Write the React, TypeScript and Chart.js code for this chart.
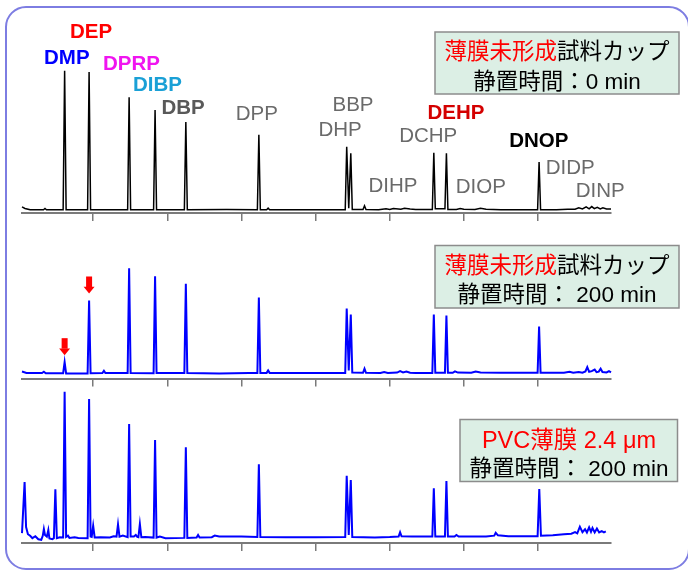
import React, { useEffect, useRef } from "react";
import { Chart, registerables } from "chart.js";
Chart.register(...registerables);

// ---- data (retention time [min], relative intensity) ----
const X_TICKS = [6, 8, 10, 12, 14, 16, 18];
const X_MIN = 4.08;
const X_MAX = 19.97;

const PEAK_NAMES = ["DMP", "DEP", "DPRP", "DIBP", "DBP", "DPP", "BBP", "DHP", "DIHP", "DCHP", "DEHP", "DIOP", "DNOP", "DIDP", "DINP"];

// panel 1: 薄膜未形成試料カップ, 0 min (black)
const TRACE_0MIN: [number, number][] = [
  [4.08, 3.8], [4.16, 2.8], [4.30, 2.0], [4.66, 2.0], [4.70, 2.8], [4.74, 2.0],
  [5.19, 2.0], [5.23, 88.9], [5.27, 2.0], [5.85, 2.0], [5.89, 88.1], [5.93, 2.0],
  [6.93, 2.0], [6.97, 72.3], [7.01, 2.0], [7.63, 2.0], [7.67, 64.4], [7.71, 2.0],
  [8.46, 2.0], [8.50, 56.9], [8.54, 2.0], [9.60, 2.2], [10.43, 2.0], [10.47, 48.9], [10.51, 2.0],
  [10.68, 2.0], [10.72, 3.0], [10.76, 2.0], [12.80, 2.0], [12.84, 41.4], [12.895, 3.0], [12.95, 37.3], [12.99, 2.2],
  [13.28, 2.2], [13.32, 4.5], [13.36, 2.2], [13.70, 2.0], [13.90, 2.6], [14.00, 2.2], [14.10, 2.8], [14.30, 2.4],
  [14.40, 3.0], [14.55, 2.5], [14.70, 2.2], [15.15, 2.2], [15.19, 37.7], [15.23, 2.6], [15.49, 2.6], [15.53, 37.3], [15.57, 2.2],
  [15.80, 2.2], [15.90, 2.8], [16.00, 2.3], [16.30, 2.2], [16.45, 2.9], [16.60, 2.3], [17.00, 2.1],
  [17.99, 2.0], [18.03, 31.9], [18.07, 2.0], [18.50, 2.1], [18.80, 2.3], [19.00, 2.3], [19.10, 3.2], [19.20, 2.5],
  [19.30, 3.8], [19.38, 2.6], [19.45, 4.0], [19.52, 2.7], [19.60, 3.6], [19.68, 2.6], [19.75, 3.3], [19.85, 2.5], [19.97, 2.5],
];

// panel 2: 薄膜未形成試料カップ, 200 min (blue)
const TRACE_200MIN: [number, number][] = [
  [4.08, 4.4], [4.20, 3.5], [4.62, 3.4], [4.67, 4.2], [4.72, 3.3], [5.19, 3.3], [5.23, 10.2], [5.27, 3.2],
  [5.85, 3.2], [5.89, 48.75], [5.93, 3.3], [6.25, 3.4], [6.29, 4.8], [6.33, 3.4], [6.93, 3.4], [6.97, 68.9], [7.01, 3.4],
  [7.63, 3.3], [7.67, 63.9], [7.71, 3.4], [8.46, 3.4], [8.50, 59.2], [8.54, 3.4], [9.40, 3.1], [10.20, 3.5],
  [10.43, 3.5], [10.47, 50.6], [10.51, 3.5], [10.68, 3.5], [10.72, 5.0], [10.76, 3.5], [12.80, 3.5], [12.84, 43.75],
  [12.895, 5.0], [12.95, 40.0], [12.99, 3.8], [13.28, 3.6], [13.32, 6.1], [13.36, 3.6], [13.75, 3.4], [13.85, 4.0],
  [13.95, 3.5], [14.20, 3.7], [14.28, 4.6], [14.36, 3.8], [14.45, 4.4], [14.55, 3.6], [14.70, 3.5], [15.15, 3.5],
  [15.19, 40.0], [15.23, 3.6], [15.49, 3.6], [15.53, 39.4], [15.57, 3.6], [15.70, 3.6], [15.76, 4.5], [15.84, 3.7],
  [16.20, 3.6], [16.32, 4.3], [16.45, 3.7], [17.00, 3.6], [17.99, 3.6], [18.03, 32.5], [18.07, 3.6], [18.70, 3.6],
  [18.85, 4.2], [18.95, 3.6], [19.10, 4.0], [19.20, 3.6], [19.28, 4.4], [19.33, 7.1], [19.38, 4.2], [19.45, 4.6],
  [19.53, 5.6], [19.58, 4.0], [19.64, 4.3], [19.69, 6.1], [19.74, 4.0], [19.85, 3.8], [19.915, 4.6], [19.97, 3.8],
];

// panel 3: PVC薄膜 2.4 µm, 200 min (blue)
const TRACE_PVC: [number, number][] = [
  [4.08, 6.2], [4.15, 38.1], [4.19, 10.0], [4.24, 5.5], [4.30, 4.5], [4.36, 3.0], [4.44, 4.2], [4.52, 2.3],
  [4.60, 2.0], [4.64, 4.5], [4.67, 8.75], [4.70, 5.0], [4.75, 4.0], [4.79, 8.1], [4.82, 2.8], [4.90, 2.4],
  [4.94, 3.0], [4.98, 33.6], [5.02, 3.0], [5.10, 3.6], [5.19, 3.5], [5.23, 94.6], [5.27, 3.8], [5.32, 4.6],
  [5.36, 3.2], [5.50, 3.6], [5.60, 3.2], [5.85, 3.0], [5.89, 90.0], [5.93, 4.0], [5.96, 3.8], [6.00, 10.8],
  [6.04, 3.5], [6.20, 3.6], [6.45, 3.4], [6.55, 4.2], [6.63, 4.0], [6.67, 11.7], [6.71, 4.0], [6.80, 4.6],
  [6.93, 3.6], [6.97, 74.4], [7.01, 4.0], [7.10, 4.0], [7.15, 5.0], [7.19, 3.8], [7.22, 3.6], [7.26, 11.9],
  [7.30, 3.6], [7.40, 3.8], [7.63, 3.4], [7.67, 64.4], [7.71, 3.4], [7.80, 4.0], [7.95, 3.0], [8.46, 3.2],
  [8.50, 59.8], [8.54, 3.2], [8.79, 3.4], [8.83, 5.0], [8.87, 3.4], [9.20, 3.6], [9.28, 4.6], [9.40, 4.0],
  [10.00, 4.0], [10.43, 3.8], [10.47, 49.2], [10.51, 3.8], [11.20, 3.6], [12.00, 3.6], [12.80, 3.8], [12.84, 42.0],
  [12.895, 5.0], [12.95, 39.4], [12.99, 3.8], [13.60, 3.5], [14.00, 3.7], [14.24, 4.0], [14.28, 6.7], [14.32, 4.2],
  [14.60, 4.0], [15.15, 4.0], [15.19, 34.2], [15.23, 4.0], [15.49, 4.0], [15.53, 38.75], [15.57, 4.0], [15.75, 4.0],
  [15.80, 5.0], [15.86, 4.0], [16.60, 4.1], [16.82, 4.6], [16.86, 6.4], [16.92, 4.8], [17.20, 4.2], [17.99, 4.2],
  [18.035, 33.75], [18.08, 4.5], [18.40, 4.8], [18.70, 5.4], [18.90, 5.8], [19.00, 6.8], [19.06, 6.0], [19.13, 10.2],
  [19.20, 6.8], [19.27, 8.6], [19.32, 6.6], [19.38, 9.8], [19.43, 7.0], [19.47, 9.4], [19.53, 6.6], [19.59, 9.0],
  [19.65, 6.6], [19.72, 7.4], [19.78, 6.6], [19.83, 7.2],
];

// peaks marked with red arrows (panel 2)
const ARROW_PEAKS_200MIN: [number, number][] = [
  [5.23, 10.2],
  [5.89, 48.75],
];

// ---- layout / styling ----
const W = 688;
const H = 571;
const LABEL_FONT = '"Liberation Sans", Arial, sans-serif';
const BOX_FONT = '"Liberation Sans", "Noto Sans CJK JP", sans-serif';
const GRAY = "#6a6a6a";

type Lbl = { name: string; color: string; bold: boolean; x: number; y: number };
const LABEL_STYLE: Lbl[] = [
  { name: PEAK_NAMES[1], color: "#ff0000", bold: true, x: 70, y: 37.7 },
  { name: PEAK_NAMES[0], color: "#0000ff", bold: true, x: 44, y: 64 },
  { name: PEAK_NAMES[2], color: "#f014f0", bold: true, x: 103, y: 70 },
  { name: PEAK_NAMES[3], color: "#1aa0d6", bold: true, x: 133, y: 90.7 },
  { name: PEAK_NAMES[4], color: "#595959", bold: true, x: 161.5, y: 114.3 },
  { name: PEAK_NAMES[5], color: GRAY, bold: false, x: 235.8, y: 120 },
  { name: PEAK_NAMES[6], color: GRAY, bold: false, x: 332.5, y: 110.7 },
  { name: PEAK_NAMES[7], color: GRAY, bold: false, x: 318.5, y: 136 },
  { name: PEAK_NAMES[8], color: GRAY, bold: false, x: 368.5, y: 192.3 },
  { name: PEAK_NAMES[9], color: GRAY, bold: false, x: 399.2, y: 141.7 },
  { name: PEAK_NAMES[10], color: "#d40000", bold: true, x: 427.5, y: 119.3 },
  { name: PEAK_NAMES[11], color: GRAY, bold: false, x: 455.8, y: 193.3 },
  { name: PEAK_NAMES[12], color: "#000000", bold: true, x: 509.2, y: 146.7 },
  { name: PEAK_NAMES[13], color: GRAY, bold: false, x: 545.8, y: 174 },
  { name: PEAK_NAMES[14], color: GRAY, bold: false, x: 575.8, y: 196.7 },
];

type Seg = { t: string; c: string };
type Box = { x: number; y: number; w: number; h: number; cx: number; lines: { y: number; size: number; segs: Seg[] }[] };
const BOXES: Box[] = [
  {
    x: 435, y: 32, w: 244, h: 62, cx: 557,
    lines: [
      { y: 59, size: 22.5, segs: [{ t: "薄膜未形成", c: "#ff0000" }, { t: "試料カップ", c: "#000" }] },
      { y: 88.5, size: 22.5, segs: [{ t: "静置時間：0 min", c: "#000" }] },
    ],
  },
  {
    x: 435, y: 245.5, w: 244, h: 62.5, cx: 557,
    lines: [
      { y: 272.5, size: 22.5, segs: [{ t: "薄膜未形成", c: "#ff0000" }, { t: "試料カップ", c: "#000" }] },
      { y: 302, size: 22.5, segs: [{ t: "静置時間： 200 min", c: "#000" }] },
    ],
  },
  {
    x: 460, y: 419.5, w: 217.5, h: 62, cx: 569,
    lines: [
      { y: 448, size: 23.5, segs: [{ t: "PVC薄膜 2.4 μm", c: "#ff0000" }] },
      { y: 475.5, size: 22.5, segs: [{ t: "静置時間： 200 min", c: "#000" }] },
    ],
  },
];

function drawBox(ctx: CanvasRenderingContext2D, b: Box) {
  ctx.save();
  ctx.fillStyle = "#dcefe5";
  ctx.strokeStyle = "#8c8c8c";
  ctx.lineWidth = 1.5;
  ctx.fillRect(b.x, b.y, b.w, b.h);
  ctx.strokeRect(b.x, b.y, b.w, b.h);
  ctx.textBaseline = "alphabetic";
  ctx.textAlign = "left";
  for (const ln of b.lines) {
    ctx.font = `${ln.size}px ${BOX_FONT}`;
    const total = ln.segs.reduce((s, sg) => s + ctx.measureText(sg.t).width, 0);
    let x = b.cx - total / 2;
    for (const sg of ln.segs) {
      ctx.fillStyle = sg.c;
      ctx.fillText(sg.t, x, ln.y);
      x += ctx.measureText(sg.t).width;
    }
  }
  ctx.restore();
}

function makeOverlay(panel: number) {
  return {
    id: "overlay" + panel,
    afterDraw(chart: any) {
      const ctx: CanvasRenderingContext2D = chart.ctx;
      if (panel === 0) {
        ctx.save();
        ctx.textAlign = "left";
        ctx.textBaseline = "alphabetic";
        for (const l of LABEL_STYLE) {
          ctx.font = `${l.bold ? "bold " : ""}20.5px ${LABEL_FONT}`;
          ctx.fillStyle = l.color;
          ctx.fillText(l.name, l.x, l.y);
        }
        ctx.restore();
      }
      if (panel === 1) {
        const xs = chart.scales.x;
        const ys = chart.scales.y;
        ctx.save();
        ctx.fillStyle = "#ff0000";
        for (const [t, v] of ARROW_PEAKS_200MIN) {
          const px = xs.getPixelForValue(t);
          const tip = ys.getPixelForValue(v) - 7;
          ctx.fillRect(px - 3, tip - 17, 6, 10.5);
          ctx.beginPath();
          ctx.moveTo(px - 5.5, tip - 6.8);
          ctx.lineTo(px + 5.5, tip - 6.8);
          ctx.lineTo(px, tip);
          ctx.closePath();
          ctx.fill();
        }
        ctx.restore();
      }
      drawBox(ctx, BOXES[panel]);
    },
  };
}

const PANELS = [
  { trace: TRACE_0MIN, color: "#000000", width: 1.5, axisY: 213 },
  { trace: TRACE_200MIN, color: "#0000ff", width: 2, axisY: 378.5 },
  { trace: TRACE_PVC, color: "#0000ff", width: 2, axisY: 543 },
];
const PX_PER_UNIT = 1.6;
const TICK_LEN = 8;

function Panel({ idx }: { idx: number }) {
  const ref = useRef<HTMLCanvasElement | null>(null);
  useEffect(() => {
    const p = PANELS[idx];
    const top = p.axisY - 100 * PX_PER_UNIT;
    const chart = new Chart(ref.current!, {
      type: "line",
      data: {
        datasets: [
          {
            data: p.trace.map(([t, v]) => ({ x: t, y: v })),
            borderColor: p.color,
            borderWidth: p.width,
            pointRadius: 0,
            tension: 0,
            clip: false as any,
            fill: false,
          },
        ],
      },
      options: {
        responsive: false,
        animation: false,
        devicePixelRatio: 1,
        layout: { padding: { left: 22, right: W - 611, top, bottom: H - p.axisY - TICK_LEN } },
        plugins: { legend: { display: false }, tooltip: { enabled: false } },
        scales: {
          x: {
            type: "linear",
            min: X_MIN,
            max: X_MAX,
            afterBuildTicks: (ax: any) => {
              ax.ticks = X_TICKS.map((v) => ({ value: v }));
            },
            ticks: { display: false },
            grid: { drawOnChartArea: false, drawTicks: true, tickLength: TICK_LEN, color: "#7a7a7a", lineWidth: 1.5 },
            border: { display: true, color: "#7a7a7a", width: 2 },
          },
          y: { display: false, min: 0, max: 100 },
        },
      } as any,
      plugins: [makeOverlay(idx)],
    });
    return () => chart.destroy();
  }, [idx]);
  return (
    <canvas
      ref={ref}
      width={W}
      height={H}
      style={{ position: "absolute", left: 0, top: 0, width: W, height: H }}
    />
  );
}

export default function App() {
  return (
    <div
      style={{
        position: "fixed",
        left: 0,
        top: 0,
        width: W,
        height: H,
        overflow: "hidden",
        background: "#ffffff",
      }}
    >
      <div
        style={{
          position: "absolute",
          left: 5,
          top: 6,
          width: 685,
          height: 564,
          boxSizing: "border-box",
          border: "2.5px solid #7d7de2",
          borderRadius: 21,
        }}
      />
      <Panel idx={0} />
      <Panel idx={1} />
      <Panel idx={2} />
    </div>
  );
}
